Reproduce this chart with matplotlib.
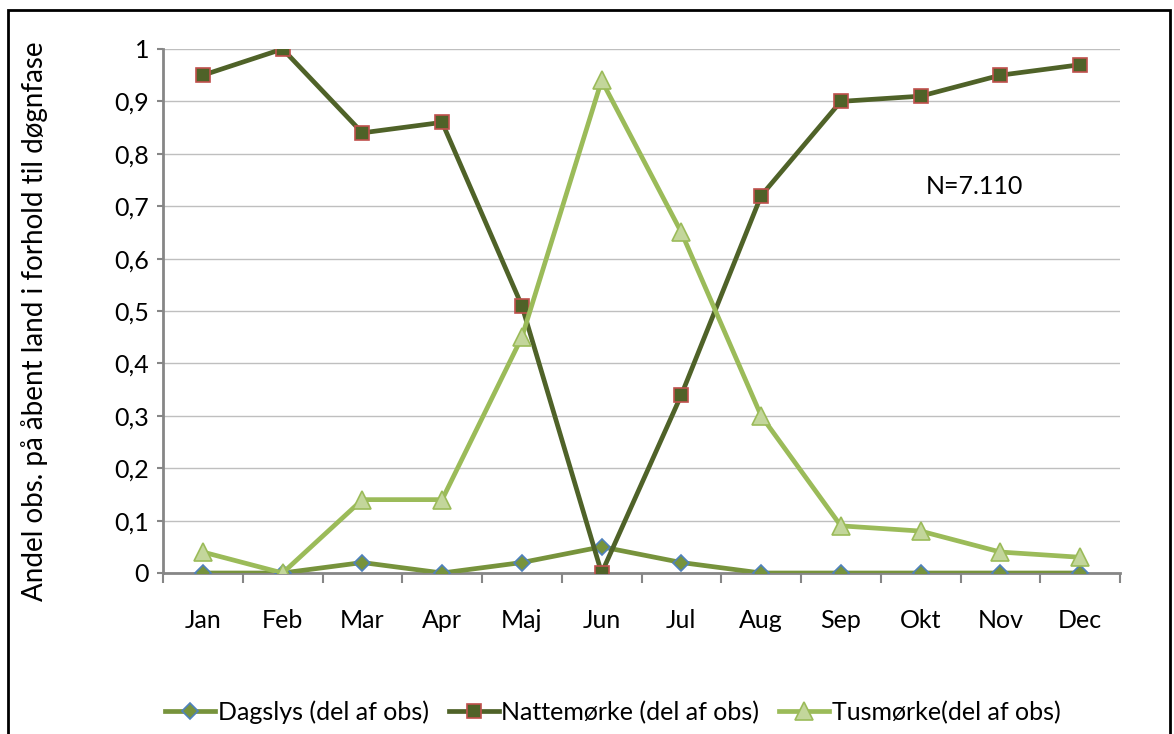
import matplotlib.pyplot as plt
from matplotlib.patches import Rectangle
from matplotlib.ticker import FixedLocator, FuncFormatter

# Andel af observationer i åbent land pr. måned, fordelt på døgnfase
months = ['Jan', 'Feb', 'Mar', 'Apr', 'Maj', 'Jun', 'Jul', 'Aug', 'Sep', 'Okt', 'Nov', 'Dec']
dagslys = [0, 0, 0.02, 0, 0.02, 0.05, 0.02, 0, 0, 0, 0, 0]
nattemoerke = [0.95, 1.0, 0.84, 0.86, 0.51, 0, 0.34, 0.72, 0.90, 0.91, 0.95, 0.97]
tusmoerke = [0.04, 0, 0.14, 0.14, 0.45, 0.94, 0.65, 0.30, 0.09, 0.08, 0.04, 0.03]
n_label = 'N=7.110'

plt.rcParams['font.family'] = ['Lato', 'DejaVu Sans']
FS = 18

W, H = 1174, 734
fig = plt.figure(figsize=(W / 100, H / 100), dpi=100)
ax = fig.add_axes([163 / W, 1 - 573 / H, (1120 - 163) / W, (573 - 49) / H])

x = list(range(len(months)))

series = [
    (dagslys, 'Dagslys (del af obs)', '#77933C', 'D', '#77933C', '#4F81BD', 8),
    (nattemoerke, 'Nattemørke (del af obs)', '#4F6228', 's', '#4F6228', '#C0504D', 10.5),
    (tusmoerke, 'Tusmørke(del af obs)', '#9BBB59', '^', '#C3D69B', '#9BBB59', 12.5),
]
for i, (vals, label, lc, mk, mfc, mec, ms) in enumerate(series):
    ax.plot(x, vals, color=lc, lw=3.4, marker=mk, markersize=ms,
            markerfacecolor=mfc, markeredgecolor=mec, markeredgewidth=1.2,
            label=label, zorder=3 + i, solid_joinstyle='miter')

ax.set_xlim(-0.5, len(months) - 0.5)
ax.set_ylim(0, 1)

ax.set_xticks(x)
ax.set_xticklabels(months)
ax.xaxis.set_minor_locator(FixedLocator([i - 0.5 for i in range(len(months) + 1)]))
ax.tick_params(axis='x', which='major', length=0, pad=26, labelsize=FS)
ax.tick_params(axis='x', which='minor', length=7, width=1.5, color='#868686', direction='out')

ax.set_yticks([i / 10 for i in range(11)])
ax.yaxis.set_major_formatter(FuncFormatter(lambda v, p: ('%g' % round(v, 1)).replace('.', ',')))
ax.tick_params(axis='y', length=4, width=1.5, color='#868686', pad=6, labelsize=FS)

ax.grid(axis='y', color='#BFBFBF', lw=1)
ax.set_axisbelow(True)
for s in ['top', 'right']:
    ax.spines[s].set_visible(False)
for s in ['left', 'bottom']:
    ax.spines[s].set_color('#868686')
    ax.spines[s].set_linewidth(2)
    ax.spines[s].set_zorder(2)

ax.set_ylabel('Andel obs. på åbent land i forhold til døgnfase', fontsize=20)
ax.yaxis.set_label_coords((48 - 163) / (1120 - 163), 0.481)

ax.text(9.68, 0.737, n_label, fontsize=FS, ha='center', va='center')

fig.legend(loc='center', bbox_to_anchor=(0.522, 1 - 712 / H), ncol=3, frameon=False,
           fontsize=FS, handlelength=2.0, handletextpad=0.1, columnspacing=0.8)

# Ramme om hele figuren
fig.patches.append(Rectangle((8 / W, -0.02), (1170 - 8) / W, 1 - 10 / H + 0.02,
                             transform=fig.transFigure, fill=False,
                             edgecolor='black', lw=2))

fig.savefig('out.png', dpi=100)
